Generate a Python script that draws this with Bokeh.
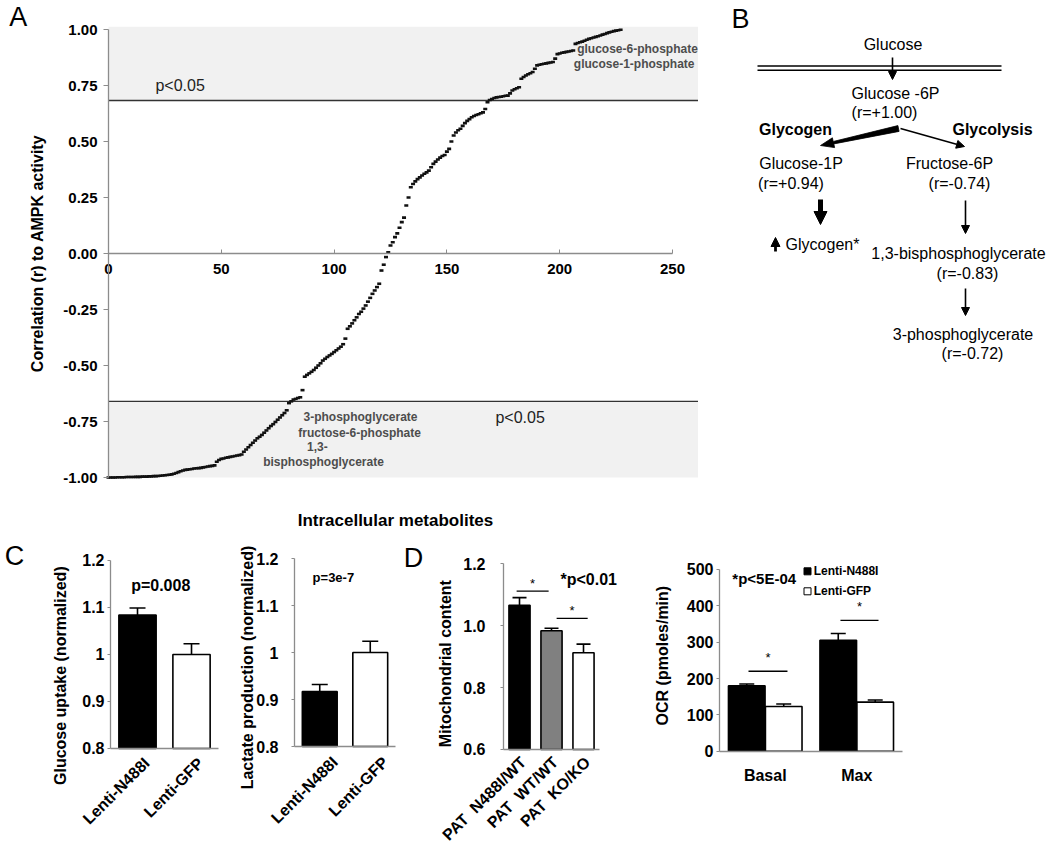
import math
from bokeh.plotting import figure
from bokeh.layouts import column, row
from bokeh.models import (Range1d, FixedTicker, NumeralTickFormatter, CustomJSTickFormatter,
                          ColumnDataSource, Whisker, TeeHead, Arrow, NormalHead)
from bokeh.core.properties import value
from bokeh.embed import file_html
from bokeh.resources import INLINE

FONT = "Liberation Sans"
AXIS_GRAY = "#8c8c8c"
LABEL_ANGLE = math.pi / 4

# ---------------- Panel A data ----------------
corr_r = [
    -1.000, -1.000, -1.000, -1.000, -0.999, -0.999, -0.999, -0.999, -0.998, -0.998,
    -0.998, -0.998, -0.997, -0.997, -0.997, -0.996, -0.996, -0.996, -0.995, -0.995,
    -0.994, -0.994, -0.993, -0.992, -0.991, -0.990, -0.989, -0.988, -0.986, -0.983,
    -0.980, -0.976, -0.972, -0.969, -0.966, -0.965, -0.963, -0.962, -0.960, -0.959,
    -0.958, -0.957, -0.955, -0.953, -0.951, -0.949, -0.948, -0.946, -0.930, -0.922,
    -0.917, -0.915, -0.912, -0.910, -0.908, -0.906, -0.904, -0.902, -0.900, -0.897,
    -0.885, -0.875, -0.865, -0.855, -0.845, -0.835, -0.825, -0.818, -0.810, -0.800,
    -0.790, -0.780, -0.770, -0.762, -0.752, -0.742, -0.732, -0.722, -0.712, -0.700,
    -0.668, -0.660, -0.652, -0.649, -0.645, -0.642, -0.610, -0.550, -0.542, -0.535,
    -0.528, -0.520, -0.510, -0.500, -0.490, -0.478, -0.470, -0.462, -0.455, -0.448,
    -0.440, -0.432, -0.424, -0.416, -0.405, -0.380, -0.336, -0.325, -0.312, -0.298,
    -0.285, -0.270, -0.260, -0.246, -0.232, -0.215, -0.198, -0.180, -0.165, -0.150,
    -0.135, -0.076, -0.050, -0.016, 0.005, 0.036, 0.050, 0.073, 0.090, 0.115,
    0.140, 0.160, 0.214, 0.250, 0.296, 0.310, 0.322, 0.332, 0.340, 0.348,
    0.356, 0.362, 0.370, 0.385, 0.400, 0.410, 0.420, 0.428, 0.435, 0.440,
    0.455, 0.467, 0.500, 0.527, 0.540, 0.550, 0.557, 0.570, 0.582, 0.592,
    0.600, 0.608, 0.614, 0.618, 0.622, 0.626, 0.630, 0.645, 0.675, 0.685,
    0.690, 0.694, 0.697, 0.699, 0.700, 0.702, 0.704, 0.705, 0.715, 0.728,
    0.733, 0.738, 0.742, 0.780, 0.788, 0.795, 0.800, 0.805, 0.810, 0.825,
    0.840, 0.843, 0.845, 0.847, 0.849, 0.851, 0.853, 0.855, 0.870, 0.890,
    0.893, 0.896, 0.898, 0.900, 0.902, 0.904, 0.906, 0.936, 0.940, 0.943,
    0.946, 0.950, 0.954, 0.958, 0.961, 0.964, 0.967, 0.970, 0.973, 0.977,
    0.980, 0.984, 0.987, 0.990, 0.993, 0.995, 0.997, 0.999,
]
metab_idx = list(range(len(corr_r)))
a_xticks = [0, 50, 100, 150, 200, 250]
a_yticks = [-1.0, -0.75, -0.5, -0.25, 0.0, 0.25, 0.5, 0.75, 1.0]
sig_upper_r = 0.683
sig_lower_r = -0.660
band_x_end = 261.3

a_note_text = ["glucose-6-phosphate", "glucose-1-phosphate", "3-phosphoglycerate",
               "fructose-6-phosphate", "1,3-", "bisphosphoglycerate"]
a_note_x = [234.5, 233.0, 111.7, 111.3, 92.6, 95.3]
a_note_y = [0.911, 0.844, -0.728, -0.800, -0.862, -0.929]
a_p_text = ["p<0.05", "p<0.05"]
a_p_x = [20.8, 171.5]
a_p_y = [0.75, -0.732]

# ---------------- Panel C / D data ----------------
c_groups = ["Lenti-N488I", "Lenti-GFP"]
glucose_uptake = [1.084, 1.000]
glucose_err = [0.015, 0.023]
lactate_prod = [0.917, 1.000]
lactate_err = [0.015, 0.024]
c_colors = ["black", "white"]

mito_groups = ["PAT\u00a0\u00a0N488I/WT", "PAT\u00a0\u00a0WT/WT", "PAT\u00a0\u00a0KO/KO"]
mito_content = [1.065, 0.983, 0.912]
mito_err = [0.025, 0.008, 0.028]
mito_colors = ["black", "#808080", "white"]
mito_sig_x0 = [0.41, 1.66]
mito_sig_x1 = [1.41, 2.63]
mito_sig_y = [1.111, 1.023]

ocr_conditions = ["Basal", "Max"]
ocr_n488i = [180, 305]
ocr_n488i_err = [5, 19]
ocr_gfp = [123, 135]
ocr_gfp_err = [7, 6]
ocr_sig_x0 = [0.317, 1.322]
ocr_sig_x1 = [0.743, 1.738]
ocr_sig_y = [220, 360]
ocr_series = ["Lenti-N488I", "Lenti-GFP"]


def style_axis(ax, size="16px"):
    ax.axis_line_color = AXIS_GRAY
    ax.axis_line_width = 1.3
    ax.major_tick_line_color = AXIS_GRAY
    ax.minor_tick_line_color = None
    ax.major_label_text_font = FONT
    ax.major_label_text_font_style = "bold"
    ax.major_label_text_font_size = size
    ax.major_label_text_color = "black"
    ax.axis_label_text_font = FONT
    ax.axis_label_text_font_style = "bold"
    ax.axis_label_text_font_size = "16px"
    ax.axis_label_text_color = "black"


def base_fig(width, height, xr, yr):
    p = figure(width=width, height=height, x_range=Range1d(*xr), y_range=Range1d(*yr),
               min_border=0, output_backend="svg", toolbar_location=None,
               outline_line_color=None, background_fill_color="white")
    p.grid.visible = False
    return p


def txt(p, x, y, text, size="16px", bold=False, align="center", color="black", angle=0.0):
    p.text(x=x, y=y, text=text, text_font=value(FONT), text_font_size=size,
           text_font_style="bold" if bold else "normal", text_align=align,
           text_baseline="middle", text_color=color, angle=angle)


def letter(p, text, x, y):
    txt(p, [x], [y], [text], size="27px")


def cat_formatter(pos, names):
    return CustomJSTickFormatter(args=dict(pos=pos, names=names), code="""
        let best = 0;
        for (let i = 0; i < pos.length; i++) {
            if (Math.abs(pos[i] - tick) < Math.abs(pos[best] - tick)) best = i;
        }
        return names[best];
    """)


# ================= Panel A =================
pA = base_fig(700, 530, (-47.87, 262.41), (-1.2366, 1.1295))
pA.quad(left=[0, 0], right=[band_x_end, band_x_end], bottom=[sig_upper_r, -1.0],
        top=[1.012, sig_lower_r], fill_color="#f1f1f1", line_color=None)
pA.segment(x0=[0, 0], x1=[band_x_end, band_x_end], y0=[sig_upper_r, sig_lower_r],
           y1=[sig_upper_r, sig_lower_r], line_color="#333333", line_width=1.3)
pA.rect(x=metab_idx, y=corr_r, width=4, height=2.6, width_units="screen",
        height_units="screen", fill_color="#111111", line_color=None)
txt(pA, a_note_x, a_note_y, a_note_text, size="12px", bold=True, color="#4d4d4d")
txt(pA, a_p_x, a_p_y, a_p_text, size="16px", align="left", color="#222222")
txt(pA, [127.2], [-1.192], ["Intracellular metabolites"], size="17px", bold=True)
letter(pA, "A", -40.0, 1.054)

xa = pA.xaxis[0]
xa.fixed_location = 0
xa.bounds = (0, 250)
xa.ticker = FixedTicker(ticks=a_xticks)
style_axis(xa, "15px")
xa.major_tick_in = 4
xa.major_tick_out = 0
xa.major_label_standoff = 10

ya = pA.yaxis[0]
ya.fixed_location = 0
ya.bounds = (-1, 1)
ya.ticker = FixedTicker(ticks=a_yticks)
ya.formatter = NumeralTickFormatter(format="0.00")
style_axis(ya, "15px")
ya.major_tick_out = 5
ya.major_tick_in = 0
ya.major_label_standoff = 6
ya.axis_label = "Correlation (r) to AMPK activity"
ya.axis_label_standoff = 14

# ================= Panel B (pathway diagram) =================
pB = base_fig(348, 530, (700, 1048), (530, 0))
pB.xaxis.visible = False
pB.yaxis.visible = False

b_text = ["Glucose", "Glucose -6P", "(r=+1.00)", "Glucose-1P", "(r=+0.94)",
          "Fructose-6P", "(r=-0.74)", "Glycogen*", "1,3-bisphosphoglycerate",
          "(r=-0.83)", "3-phosphoglycerate", "(r=-0.72)"]
b_text_x = [892.5, 895, 884, 800.5, 790.5, 949, 959, 822, 958, 967, 962.5, 972]
b_text_y = [44.3, 93, 112, 163, 183, 163, 183, 244, 253, 273, 334, 353]
b_bold_text = ["Glycogen", "Glycolysis"]
b_bold_x = [795, 992]
b_bold_y = [129, 129]

txt(pB, b_text_x, b_text_y, b_text, size="16px")
txt(pB, b_bold_x, b_bold_y, b_bold_text, size="16px", bold=True)
letter(pB, "B", 740, 18)
# membrane (double line)
pB.segment(x0=[757, 757], x1=[1001, 1001], y0=[65.5, 69.8], y1=[65.5, 69.8],
           line_color="black", line_width=1.4)
# thin arrows
thin_arrows = [(892, 57, 892, 79), (965, 200, 965, 233), (965, 288, 965, 315),
               (900, 128, 964, 146)]
for (x0, y0, x1, y1) in thin_arrows:
    pB.add_layout(Arrow(x_start=x0, y_start=y0, x_end=x1, y_end=y1, line_width=1.6,
                        line_color="black",
                        end=NormalHead(size=8, fill_color="black", line_color="black")))
# thick arrows
pB.add_layout(Arrow(x_start=820, y_start=199, x_end=820, y_end=224, line_width=5,
                    line_color="black",
                    end=NormalHead(size=13, fill_color="black", line_color="black")))
pB.add_layout(Arrow(x_start=775, y_start=251, x_end=775, y_end=237, line_width=2.8,
                    line_color="black",
                    end=NormalHead(size=9, fill_color="black", line_color="black")))
# tapered wedge toward glycogen
pB.patch(x=[897.4, 898.6, 833.3, 834.1, 820, 831.9, 832.7],
         y=[125.1, 130.9, 143.4, 147.1, 145, 137.3, 141.0],
         fill_color="black", line_color="black", line_width=0.8)


# ================= bar panels =================
def bar_panel(width, xr, yr, y_base, groups, vals, errs, colors, ticks, fmt, ylabel,
              title_xy, bar_w, cap, tick_standoff, label_shift, cat_standoff):
    p = base_fig(width, 318, xr, yr)
    xs = [i + 0.5 for i in range(len(groups))]
    src = ColumnDataSource(dict(x=xs, v=vals, c=colors,
                                up=[a + b for a, b in zip(vals, errs)],
                                lo=[a - b for a, b in zip(vals, errs)]))
    p.vbar(x="x", top="v", bottom=y_base, width=bar_w, fill_color="c",
           line_color="black", line_width=1.6, source=src)
    p.add_layout(Whisker(base="x", upper="up", lower="lo", source=src, line_width=1.6,
                         line_color="black",
                         upper_head=TeeHead(size=cap, line_width=1.6, line_color="black"),
                         lower_head=TeeHead(size=cap, line_width=1.6, line_color="black")))
    ya = p.yaxis[0]
    ya.fixed_location = 0
    ya.bounds = (ticks[0], ticks[-1])
    ya.ticker = FixedTicker(ticks=ticks)
    ya.formatter = NumeralTickFormatter(format=fmt)
    style_axis(ya)
    ya.major_tick_out = 3
    ya.major_tick_in = 0
    ya.major_label_standoff = tick_standoff
    txt(p, [title_xy[0]], [title_xy[1]], [ylabel], size="16px", bold=True,
        angle=math.pi / 2)
    xa = p.xaxis[0]
    xa.fixed_location = y_base
    xa.bounds = (0, len(groups))
    lab_pos = [v + label_shift for v in xs]
    xa.ticker = FixedTicker(ticks=lab_pos)
    xa.formatter = cat_formatter(lab_pos, groups)
    style_axis(xa)
    xa.major_tick_line_color = None
    xa.major_label_orientation = LABEL_ANGLE
    xa.major_label_standoff = cat_standoff
    return p


pC1 = bar_panel(236, (-2.037, 2.333), (0.5872, 1.2638), 0.8, c_groups, glucose_uptake,
                glucose_err, c_colors, [0.8, 0.9, 1.0, 1.1, 1.2], "0.[0]",
                "Glucose uptake (normalized)", (-0.926, 0.955), 0.69, 16, 3, 0.17, 6)
txt(pC1, [0.93], [1.147], ["p=0.008"], size="16px", bold=True)
letter(pC1, "C", -1.78, 1.2106)

pC2 = bar_panel(164, (-1.1485, 2.099), (0.583, 1.2596), 0.8, c_groups, lactate_prod,
                lactate_err, c_colors, [0.8, 0.9, 1.0, 1.1, 1.2], "0.[0]",
                "Lactate production (normalized)", (-0.93, 0.968), 0.69, 16, 13, 0.3, 7)
txt(pC2, [0.77], [1.16], ["p=3e-7"], size="13px", bold=True)

pD1 = bar_panel(220, (-3.219, 3.656), (0.2806, 1.3065), 0.6, mito_groups, mito_content,
                mito_err, mito_colors, [0.6, 0.8, 1.0, 1.2], "0.0",
                "Mitochondrial content", (-1.81, 0.877), 0.66, 14, 15, 0.12, 4)
pD1.segment(x0=mito_sig_x0, x1=mito_sig_x1, y0=mito_sig_y, y1=mito_sig_y,
            line_color="black", line_width=1.4)
txt(pD1, [(a + b) / 2 for a, b in zip(mito_sig_x0, mito_sig_x1)],
    [v + 0.026 for v in mito_sig_y], ["*", "*"], size="13px")
txt(pD1, [1.78], [1.148], ["*p<0.01"], size="16px", bold=True, align="left")
letter(pD1, "D", -2.81, 1.219)

# ---- OCR grouped bars ----
pD2 = base_fig(428, 318, (-1.082, 3.596), (-267.7, 607.3))
ocr_pos = [i + 0.5 for i in range(len(ocr_conditions))]
for vals, errs, off, col in [(ocr_n488i, ocr_n488i_err, -0.202, "black"),
                             (ocr_gfp, ocr_gfp_err, 0.202, "white")]:
    src = ColumnDataSource(dict(x=[p + off for p in ocr_pos], v=vals,
                                up=[a + b for a, b in zip(vals, errs)],
                                lo=[a - b for a, b in zip(vals, errs)]))
    pD2.vbar(x="x", top="v", bottom=0, width=0.40, fill_color=col, line_color="black",
             line_width=1.6, source=src)
    pD2.add_layout(Whisker(base="x", upper="up", lower="lo", source=src, line_width=1.6,
                           line_color="black",
                           upper_head=TeeHead(size=15, line_width=1.6, line_color="black"),
                           lower_head=TeeHead(size=15, line_width=1.6, line_color="black")))
pD2.segment(x0=ocr_sig_x0, x1=ocr_sig_x1, y0=ocr_sig_y, y1=ocr_sig_y,
            line_color="black", line_width=1.4)
txt(pD2, [(a + b) / 2 for a, b in zip(ocr_sig_x0, ocr_sig_x1)],
    [v + 37 for v in ocr_sig_y], ["*", "*"], size="13px")
txt(pD2, [0.14], [476], ["*p<5E-04"], size="15px", bold=True, align="left")
pD2.scatter(x=[0.962, 0.962], y=[495, 440], marker="square", size=7,
            fill_color=["black", "white"], line_color="black", line_width=1)
txt(pD2, [1.03, 1.03], [495, 440], ocr_series, size="12px", bold=True, align="left")
txt(pD2, [-0.623], [263], ["OCR (pmoles/min)"], size="16px", bold=True, angle=math.pi / 2)
yd = pD2.yaxis[0]
yd.fixed_location = 0
yd.ticker = FixedTicker(ticks=[0, 100, 200, 300, 400, 500])
yd.bounds = (0, 500)
style_axis(yd)
yd.major_tick_out = 3
yd.major_tick_in = 0
yd.major_label_standoff = 3
xd = pD2.xaxis[0]
xd.fixed_location = 0
xd.bounds = (0, len(ocr_conditions))
xd.ticker = FixedTicker(ticks=ocr_pos)
xd.formatter = cat_formatter(ocr_pos, ocr_conditions)
style_axis(xd)
xd.major_tick_line_color = None
xd.major_label_standoff = 10

layout = column(row(pA, pB), row(pC1, pC2, pD1, pD2))
open("out.html", "w").write(file_html(layout, INLINE, title="AMPK metabolites"))
